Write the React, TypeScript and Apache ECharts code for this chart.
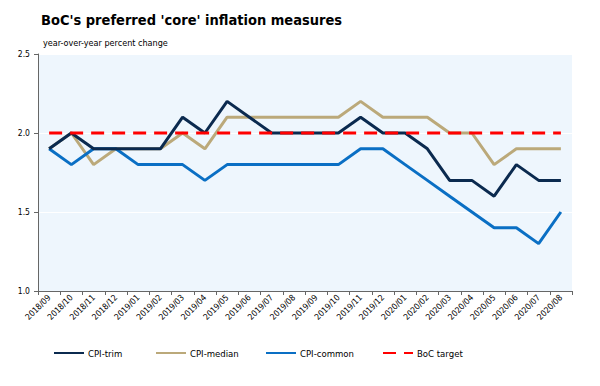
import React, { useEffect, useRef } from "react";
import * as echarts from "echarts";

const categories = [
  "2018/09", "2018/10", "2018/11", "2018/12",
  "2019/01", "2019/02", "2019/03", "2019/04", "2019/05", "2019/06",
  "2019/07", "2019/08", "2019/09", "2019/10", "2019/11", "2019/12",
  "2020/01", "2020/02", "2020/03", "2020/04", "2020/05", "2020/06",
  "2020/07", "2020/08",
];

const cpiTrim = [1.9, 2.0, 1.9, 1.9, 1.9, 1.9, 2.1, 2.0, 2.2, 2.1, 2.0, 2.0, 2.0, 2.0, 2.1, 2.0, 2.0, 1.9, 1.7, 1.7, 1.6, 1.8, 1.7, 1.7];
const cpiMedian = [1.9, 2.0, 1.8, 1.9, 1.9, 1.9, 2.0, 1.9, 2.1, 2.1, 2.1, 2.1, 2.1, 2.1, 2.2, 2.1, 2.1, 2.1, 2.0, 2.0, 1.8, 1.9, 1.9, 1.9];
const cpiCommon = [1.9, 1.8, 1.9, 1.9, 1.8, 1.8, 1.8, 1.7, 1.8, 1.8, 1.8, 1.8, 1.8, 1.8, 1.9, 1.9, 1.8, 1.7, 1.6, 1.5, 1.4, 1.4, 1.3, 1.5];
const bocTarget = [2.0, 2.0, 2.0, 2.0, 2.0, 2.0, 2.0, 2.0, 2.0, 2.0, 2.0, 2.0, 2.0, 2.0, 2.0, 2.0, 2.0, 2.0, 2.0, 2.0, 2.0, 2.0, 2.0, 2.0];

const seriesNames = ["CPI-trim", "CPI-median", "CPI-common", "BoC target"];

const yTicks = { min: 1.0, max: 2.5, interval: 0.5 };

const FONT = "DejaVu Sans Condensed";

export default function App() {
  const ref = useRef<HTMLDivElement>(null);
  useEffect(() => {
    if (!ref.current) return;
    const chart = echarts.init(ref.current, null, { renderer: "svg" });
    const lineSeries = (name: string, data: number[], color: string, type: any = "solid", z = 2) => ({
      name,
      type: "line",
      data,
      symbol: "none",
      z,
      lineStyle: { color, width: 3, type },
      itemStyle: { color },
    });
    const legendLefts = [53, 155, 265, 382];
    chart.setOption({
      animation: false,
      textStyle: { fontFamily: FONT },
      title: [
        {
          text: "BoC's preferred 'core' inflation measures",
          left: 36,
          top: 7,
          textStyle: { fontFamily: FONT, fontSize: 14.5, fontWeight: "bold", color: "#000" },
        },
        {
          text: "year-over-year percent change",
          left: 38,
          top: 33,
          textStyle: { fontFamily: FONT, fontSize: 9, fontWeight: "normal", color: "#000" },
        },
        {
          text: "Source: Statistics Canada, RBC Economics Research",
          left: 37,
          top: 373,
          textStyle: { fontFamily: FONT, fontSize: 8, fontWeight: "normal", color: "#000" },
        },
      ],
      legend: seriesNames.map((n, i) => ({
        left: legendLefts[i],
        top: 348,
        padding: 0,
        itemGap: 0,
        itemWidth: 30,
        itemHeight: 12,
        itemStyle: { opacity: 0 },
        textStyle: { fontFamily: FONT, fontSize: 9.5, color: "#000", padding: [0, 0, 0, -1] },
        data: [n],
      })),
      grid: {
        left: 38,
        right: 28,
        top: 54,
        bottom: 95,
        show: true,
        backgroundColor: "#eef6fd",
        borderWidth: 0,
      },
      xAxis: {
        type: "category",
        data: categories,
        boundaryGap: true,
        axisLine: { show: true, lineStyle: { color: "#666", width: 1 } },
        axisTick: { show: true, interval: 0, length: 4, lineStyle: { color: "#666" } },
        axisLabel: {
          interval: 0,
          rotate: 45,
          fontSize: 8.5,
          color: "#000",
          fontFamily: FONT,
          margin: 5,
        },
        splitLine: { show: false },
      },
      yAxis: {
        type: "value",
        min: yTicks.min,
        max: yTicks.max,
        interval: yTicks.interval,
        axisLine: { show: true, lineStyle: { color: "#666", width: 1 } },
        axisTick: { show: true, length: 4, lineStyle: { color: "#666" } },
        axisLabel: {
          fontSize: 8.5,
          color: "#000",
          fontFamily: FONT,
          margin: 8,
          formatter: (v: number) => v.toFixed(1),
        },
        splitLine: { show: true, lineStyle: { color: "#ffffff", width: 1 } },
      },
      series: [
        lineSeries(seriesNames[0], cpiTrim, "#0b2a4f", "solid", 3),
        lineSeries(seriesNames[1], cpiMedian, "#bba97a", "solid", 2),
        lineSeries(seriesNames[2], cpiCommon, "#0a6fc4", "solid", 2),
        lineSeries(seriesNames[3], bocTarget, "#ff0000", [13, 8], 4),
      ],
    });
    return () => chart.dispose();
  }, []);
  return <div ref={ref} style={{ width: 600, height: 386, margin: -8 }} />;
}
